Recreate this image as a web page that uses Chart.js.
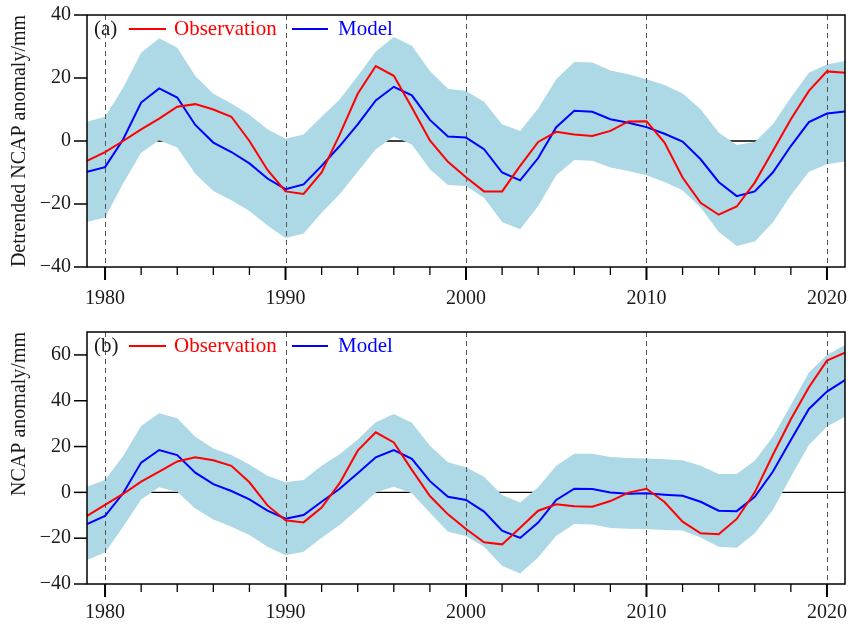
<!DOCTYPE html>
<html>
<head>
<meta charset="utf-8">
<script src="https://cdn.jsdelivr.net/npm/chart.js@4.4.0/dist/chart.umd.min.js"></script>
<style>
body{margin:0;background:#fff;}
canvas{position:absolute;left:0;}
#chartA{top:0;}
#chartB{top:313px;}
</style>
</head>
<body>
<canvas id="chartA" width="850" height="313"></canvas>
<canvas id="chartB" width="850" height="312"></canvas>
<script>
'use strict';

// years on the x axis
const years = [1979, 1980, 1981, 1982, 1983, 1984, 1985, 1986, 1987, 1988, 1989,
  1990, 1991, 1992, 1993, 1994, 1995, 1996, 1997, 1998, 1999,
  2000, 2001, 2002, 2003, 2004, 2005, 2006, 2007, 2008, 2009,
  2010, 2011, 2012, 2013, 2014, 2015, 2016, 2017, 2018, 2019, 2020, 2021];

// panel (a): detrended NCAP anomaly
const obsA = [-6.3, -3.5, 0, 3.7, 7.1, 10.9, 11.7, 10, 7.7, 0, -9.2,
  -16, -16.8, -10, 2, 15, 23.8, 20.7, 10.6, 0.2, -6.6,
  -11.5, -16, -16, -7.9, -0.3, 2.9, 2.1, 1.6, 3.2, 6.2,
  6.3, -0.5, -11.6, -19.6, -23.4, -20.8, -13.2, -3.2, 6.9, 15.9, 22.1, 21.7];
const modA = [-9.8, -8.3, 0.5, 12.2, 16.7, 13.8, 5.1, -0.5, -3.5, -7.1, -11.9,
  -15.3, -13.8, -7.9, -1.6, 5.3, 12.9, 17.2, 14.5, 6.7, 1.4,
  1.1, -2.6, -10, -12.5, -5.4, 4.4, 9.6, 9.3, 6.9, 5.8,
  4.4, 2.3, -0.2, -5.8, -13, -17.5, -16, -10, -1.6, 6, 8.7, 9.4];
const upA = [6.1, 7.7, 16.9, 28, 32.6, 29.6, 20.6, 15, 11.9, 8.3, 3.7,
  0.7, 2.1, 7.7, 13.2, 20.6, 28.4, 33, 30.2, 22.2, 16.6,
  15.9, 12.5, 5.3, 3.2, 10.3, 19.6, 25.1, 24.9, 22.4, 21.2,
  19.6, 17.8, 15.1, 10.1, 2.7, -1.3, -0.3, 5.3, 13.8, 21.7, 24.3, 25.4];
const loA = [-25.7, -24.3, -13.5, -3.7, 0.2, -2.1, -10.4, -15.9, -18.8, -22.2, -26.8,
  -30.8, -29.4, -22.8, -16.9, -9.8, -2.6, 1.4, -1.1, -9, -14,
  -14.3, -18, -25.7, -28, -20.6, -10.9, -6, -6.3, -8.4, -9.5,
  -10.9, -13, -15.6, -21.1, -28.8, -33.3, -31.9, -25.9, -17.2, -9.8, -7.4, -6.5];

// panel (b): NCAP anomaly
const obsB = [-10.3, -5.5, -0.7, 4.7, 9, 13.5, 15.3, 14, 11.6, 4.4, -5.7,
  -12.2, -13.1, -6.6, 4, 18.2, 26.2, 21.8, 9.8, -1.6, -9.6,
  -16, -21.8, -22.7, -15.4, -8, -5.2, -6.1, -6.3, -3.8, -0.1,
  1.6, -4.2, -12.8, -17.9, -18.3, -11.6, 0, 16.3, 31.9, 45.9, 57.5, 61];
const modB = [-13.8, -10.3, -0.4, 13, 18.5, 16.3, 8.6, 3.6, 0.6, -3.1, -8,
  -11.5, -9.9, -4.1, 1.6, 8.3, 15.3, 18.5, 14.6, 4.9, -1.9,
  -3.3, -8.4, -16.7, -19.9, -13.2, -3.3, 1.6, 1.5, -0.1, -0.6,
  -0.4, -1, -1.5, -4.1, -8, -8.2, -1.9, 9, 22.9, 36.4, 44, 49];
const upB = [2.5, 5.4, 15.9, 29, 34.5, 32.3, 24.3, 19.2, 16.3, 12.2, 7.3,
  4.4, 5.4, 11.6, 16.6, 23.1, 30.6, 34.2, 30.4, 20.4, 13.1,
  11, 6.8, -1.2, -4.4, 2.2, 11.6, 16.9, 16.9, 15.4, 15,
  14.8, 14.4, 14, 11.6, 8, 8, 13.8, 24.3, 38.1, 52.3, 60, 64.3];
const loB = [-29.5, -26.2, -15, -3.1, 2.2, 0.3, -7, -11.8, -15, -18.6, -23.7,
  -27.4, -25.9, -19.8, -14.3, -7.4, -0.1, 2.5, -0.4, -8.9, -17.2,
  -19, -23.7, -32, -35.4, -28.4, -18.9, -13.8, -14, -15.6, -15.9,
  -16, -16.4, -16.7, -19.7, -23.7, -24.2, -17.9, -7.7, 6.8, 20.7, 28.7, 33];

// tick labels
const xTicks = [1980, 1990, 2000, 2010, 2020];
const yTicksA = [-40, -20, 0, 20, 40];
const yTicksB = [-40, -20, 0, 20, 40, 60];

const serif = '"Liberation Serif", "Times New Roman", serif';
const textColor = '#1a1a1a';

// turns a value list into {x, y} points
function toPoints(values) {
  return years.map((yr, i) => ({x: yr, y: values[i]}));
}

// extra drawing: zero line, decade lines, ticks, frame, legend
const panelDecor = {
  id: 'panelDecor',
  beforeDatasetsDraw(chart) {
    const {ctx, chartArea: a, scales} = chart;
    const y0 = scales.y.getPixelForValue(0);
    ctx.save();
    ctx.strokeStyle = '#000';
    ctx.lineWidth = 1.3;
    ctx.beginPath();
    ctx.moveTo(a.left, y0);
    ctx.lineTo(a.right, y0);
    ctx.stroke();
    ctx.restore();
  },
  beforeDatasetDraw(chart, args) {
    if (args.index !== 1) return; // after the band, before the lines
    const {ctx, chartArea: a, scales} = chart;
    ctx.save();
    ctx.strokeStyle = '#555';
    ctx.lineWidth = 1;
    ctx.setLineDash([5, 4]);
    xTicks.forEach(v => {
      const px = Math.round(scales.x.getPixelForValue(v)) + 0.5;
      ctx.beginPath();
      ctx.moveTo(px, a.top);
      ctx.lineTo(px, a.bottom);
      ctx.stroke();
    });
    ctx.restore();
  },
  afterDraw(chart, args, opts) {
    const {ctx, chartArea: a, scales} = chart;
    ctx.save();
    ctx.strokeStyle = '#000';
    // x ticks: long at decades, short every two years
    for (let yr = 1980; yr <= 2020; yr += 2) {
      const px = scales.x.getPixelForValue(yr);
      const major = yr % 10 === 0;
      ctx.lineWidth = major ? 2 : 1.3;
      ctx.beginPath();
      ctx.moveTo(px, a.bottom);
      ctx.lineTo(px, a.bottom + (major ? 13 : 8));
      ctx.stroke();
    }
    // y ticks
    ctx.lineWidth = 1.5;
    opts.yTicks.forEach(v => {
      const py = scales.y.getPixelForValue(v);
      ctx.beginPath();
      ctx.moveTo(a.left, py);
      ctx.lineTo(a.left - 13, py);
      ctx.stroke();
    });
    // frame
    ctx.lineWidth = 1.5;
    ctx.strokeRect(a.left, a.top, a.right - a.left, a.bottom - a.top);

    // legend with panel tag
    const ly = a.top + 14;
    ctx.font = '21px ' + serif;
    ctx.textBaseline = 'middle';
    ctx.fillStyle = textColor;
    ctx.fillText(opts.tag, 94, ly);
    ctx.lineWidth = 2;
    ctx.strokeStyle = '#ff0000';
    ctx.beginPath(); ctx.moveTo(129, ly); ctx.lineTo(166, ly); ctx.stroke();
    ctx.fillStyle = '#ff0000';
    ctx.fillText('Observation', 174, ly);
    ctx.strokeStyle = '#0000ff';
    ctx.beginPath(); ctx.moveTo(292, ly); ctx.lineTo(328, ly); ctx.stroke();
    ctx.fillStyle = '#0000ff';
    ctx.fillText('Model', 338, ly);
    ctx.restore();
  }
};

// builds one panel
function makePanel(id, p) {
  return new Chart(document.getElementById(id), {
    type: 'line',
    data: {
      datasets: [
        {label: 'Observation', data: toPoints(p.obs), borderColor: '#ff0000', borderWidth: 2, pointRadius: 0, fill: false},
        {label: 'Model', data: toPoints(p.mod), borderColor: '#0000ff', borderWidth: 2, pointRadius: 0, fill: false},
        {label: 'upper', data: toPoints(p.up), borderWidth: 0, pointRadius: 0, backgroundColor: '#add8e6', fill: '+1'},
        {label: 'lower', data: toPoints(p.lo), borderWidth: 0, pointRadius: 0, fill: false}
      ]
    },
    options: {
      responsive: false,
      animation: false,
      layout: {padding: {top: p.padTop, right: 5, left: 0, bottom: 0}},
      plugins: {
        legend: {display: false},
        tooltip: {enabled: false},
        panelDecor: {tag: p.tag, yTicks: p.yTicks}
      },
      scales: {
        x: {
          type: 'linear',
          min: 1979,
          max: 2021,
          afterBuildTicks: axis => { axis.ticks = xTicks.map(v => ({value: v})); },
          afterFit: axis => {
            axis.height = p.xHeight;
            axis.paddingLeft = 0;
            axis.paddingRight = 0;
          },
          grid: {display: false, drawTicks: false},
          border: {display: false},
          ticks: {
            padding: p.xPad,
            maxRotation: 0,
            autoSkip: false,
            color: textColor,
            font: {family: serif, size: 20},
            callback: v => String(v)
          }
        },
        y: {
          min: -40,
          max: p.yMax,
          afterBuildTicks: axis => { axis.ticks = p.yTicks.map(v => ({value: v})); },
          afterFit: axis => {
            axis.width = 87;
            axis.paddingTop = 0;
            axis.paddingBottom = 0;
          },
          grid: {display: false, drawTicks: false},
          border: {display: false},
          ticks: {
            padding: 16,
            color: textColor,
            font: {family: serif, size: 20},
            callback: v => String(v).replace('-', '\u2212')
          },
          title: {
            display: true,
            text: p.title,
            align: p.titleAlign,
            color: textColor,
            font: {family: serif, size: 20},
            padding: {top: 8, bottom: 0}
          }
        }
      }
    },
    plugins: [panelDecor]
  });
}

makePanel('chartA', {
  obs: obsA, mod: modA, up: upA, lo: loA, tag: '(a)', yTicks: yTicksA, yMax: 40,
  title: 'Detrended NCAP anomaly/mm', titleAlign: 'center',
  padTop: 15, xHeight: 46, xPad: 20
});
makePanel('chartB', {
  obs: obsB, mod: modB, up: upB, lo: loB, tag: '(b)', yTicks: yTicksB, yMax: 70,
  title: 'NCAP anomaly/mm', titleAlign: 'end',
  padTop: 19, xHeight: 41, xPad: 17
});
</script>
</body>
</html>
